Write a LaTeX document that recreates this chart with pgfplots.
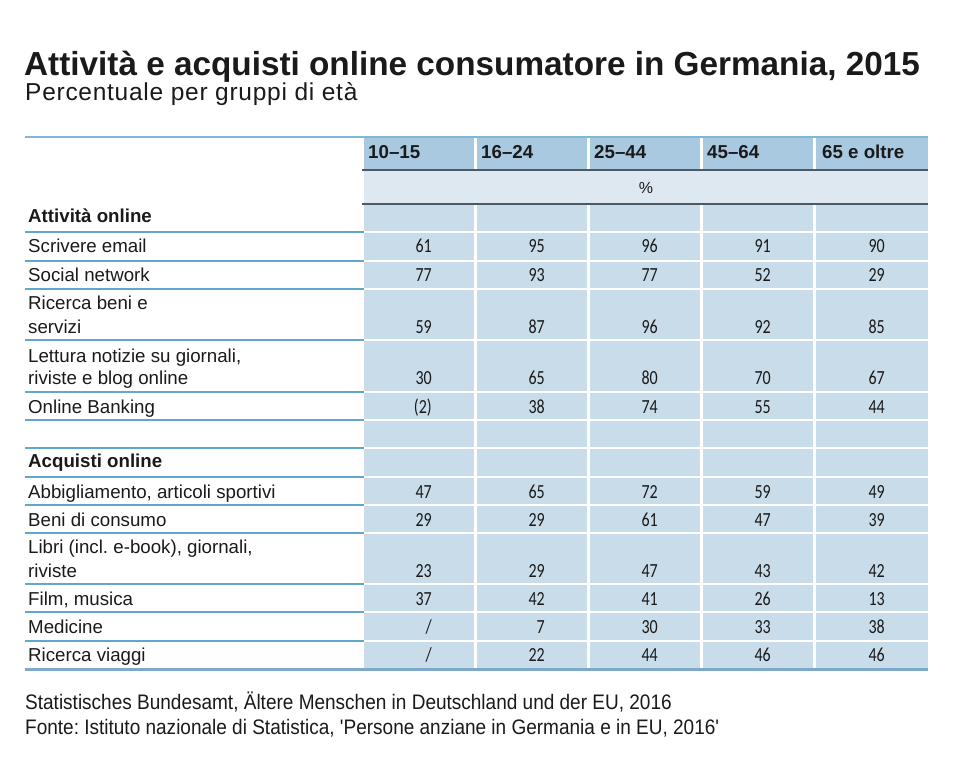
\documentclass[border=0pt]{standalone}
\usepackage{pgfplots}
\pgfplotsset{compat=1.18}
\usepackage{pgfplotstable}
\usepackage{fontspec}
\setmainfont{Liberation Sans}
\newfontfamily\numfont{Carlito}[FakeStretch=0.8]
\newfontfamily\footfont{Liberation Sans}[FakeStretch=0.905]
\newfontfamily\subfont{Liberation Sans}[LetterSpace=3]
\newcommand\fs[1]{\fontsize{#1}{#1}\selectfont}
\frenchspacing
\definecolor{hdr}{HTML}{A9C9E0}
\definecolor{pct}{HTML}{DDE8F1}
\definecolor{cell}{HTML}{C8DCEA}
\definecolor{rulec}{HTML}{62A6CF}
\definecolor{darkl}{HTML}{4D5A66}
\definecolor{bottoml}{HTML}{7EA9CC}
\definecolor{txt}{HTML}{1A1A1A}

% baseline y (px from top) and values per age group
\pgfplotstableread{
y    a    b   c   d   e
252  61   95  96  91  90
281  77   93  77  52  29
333  59   87  96  92  85
384  30   65  80  70  67
413  (2)  38  74  55  44
498  47   65  72  59  49
526  29   29  61  47  39
577  23   29  47  43  42
605  37   42  41  26  13
633  /    7   30  33  38
661  /    22  44  46  46
}\vals

\begin{document}
\frenchspacing
\begin{tikzpicture}
\begin{axis}[width=960pt,height=764pt,scale only axis,
  xmin=0,xmax=960,ymin=0,ymax=764,y dir=reverse,
  axis lines=none,clip=false,
  every node near coord/.append style={font=\numfont\fs{20}\color{txt},inner sep=0pt},
  nodes near coords align={anchor=base east}]
\fill[white] (0,0) rectangle (960,764);
% header cells
\fill[hdr] (364,137) rectangle (928,169);
\fill[pct] (364,171) rectangle (928,202.5);
\fill[cell] (364,205) rectangle (928,669);
\pgfplotsinvokeforeach{232,261,289,340,392,420,448,477,505,533,584,612,641}{
  \draw[white,line width=2.2pt] (364,#1) -- (928,#1);
  \draw[rulec,line width=1.6pt] (25,#1) -- (364,#1);
}
\pgfplotsinvokeforeach{475.5,588.5,701.5,814.5}{
  \draw[white,line width=3pt] (#1,137) -- (#1,169.5);
  \draw[white,line width=3pt] (#1,204.5) -- (#1,669);
}
\draw[darkl,line width=2pt] (362,170) -- (928,170);
\draw[darkl,line width=2pt] (362,203.5) -- (928,203.5);
\draw[rulec!80,line width=1.5pt] (25,137) -- (928,137);
\draw[bottoml,line width=3pt] (25,669.5) -- (928,669.5);
% titles
\node[anchor=base west,inner sep=0pt,text=txt,font=\bfseries\fs{33.3}] at (24,75) {Attività e acquisti online consumatore in Germania, 2015};
\node[anchor=base west,inner sep=0pt,text=txt,font=\subfont\fs{24.5}] at (25,100) {Percentuale per gruppi di età};
% header
\tikzset{hd/.style={anchor=base west,inner sep=0pt,text=txt,font=\bfseries\fs{18.7}}}
\node[hd] at (368,158) {10--15};
\node[hd] at (481,158) {16--24};
\node[hd] at (594,158) {25--44};
\node[hd] at (707,158) {45--64};
\node[hd] at (822,158) {65 e oltre};
\node[anchor=base,inner sep=0pt,text=txt,font=\fs{16}] at (646,193) {\%};
% row labels
\tikzset{lab/.style={anchor=base west,inner sep=0pt,text=txt,font=\fs{18.7}}}
\node[lab,font=\bfseries\fs{18.7}] at (28,222) {Attività online};
\node[lab] at (28,252) {Scrivere email};
\node[lab] at (28,281) {Social network};
\node[lab] at (28,309) {Ricerca beni e};
\node[lab] at (28,333) {servizi};
\node[lab] at (28,362) {Lettura notizie su giornali,};
\node[lab] at (28,384) {riviste e blog online};
\node[lab] at (28,413) {Online Banking};
\node[lab,font=\bfseries\fs{18.7}] at (28,467) {Acquisti online};
\node[lab] at (28,498) {Abbigliamento, articoli sportivi};
\node[lab] at (28,526) {Beni di consumo};
\node[lab] at (28,553) {Libri (incl. e-book), giornali,};
\node[lab] at (28,577) {riviste};
\node[lab] at (28,605) {Film, musica};
\node[lab] at (28,633) {Medicine};
\node[lab] at (28,661) {Ricerca viaggi};
% values
\addplot[draw=none,mark=none,nodes near coords,point meta=explicit symbolic] table[x expr=432,y=y,meta=a] {\vals};
\addplot[draw=none,mark=none,nodes near coords,point meta=explicit symbolic] table[x expr=545,y=y,meta=b] {\vals};
\addplot[draw=none,mark=none,nodes near coords,point meta=explicit symbolic] table[x expr=658,y=y,meta=c] {\vals};
\addplot[draw=none,mark=none,nodes near coords,point meta=explicit symbolic] table[x expr=771,y=y,meta=d] {\vals};
\addplot[draw=none,mark=none,nodes near coords,point meta=explicit symbolic] table[x expr=885,y=y,meta=e] {\vals};
% footer
\node[anchor=base west,inner sep=0pt,text=txt,font=\footfont\fs{21}] at (25,709) {Statistisches Bundesamt, Ältere Menschen in Deutschland und der EU, 2016};
\node[anchor=base west,inner sep=0pt,text=txt,font=\footfont\fs{21}] at (25,734) {Fonte: Istituto nazionale di Statistica, 'Persone anziane in Germania e in EU, 2016'};
\end{axis}
\end{tikzpicture}
\end{document}
